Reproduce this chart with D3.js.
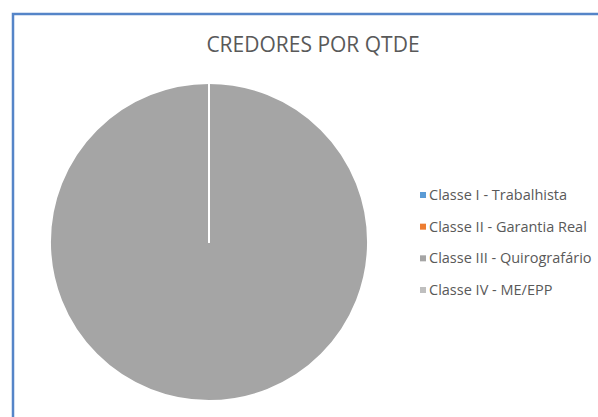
<!DOCTYPE html>
<html><head><meta charset="utf-8">
<script src="https://cdn.jsdelivr.net/npm/d3@7"></script>
<style>html,body{margin:0;padding:0;background:#fff;}svg{display:block;}</style>
</head><body>
<svg id="chart" width="598" height="417"></svg>
<script>
const title = "CREDORES POR QTDE";
const categories = ["Classe I - Trabalhista", "Classe II - Garantia Real", "Classe III - Quirografário", "Classe IV - ME/EPP"];
const values = [0, 0, 1, 0];
const colors = ["#5b9bd5", "#ed7d31", "#a5a5a5", "#bfbfbf"];

const svg = d3.select("#chart");
const W = 598, H = 417;

// chart frame
svg.append("rect").attr("x", 13).attr("y", 14).attr("width", W + 20).attr("height", H + 20)
  .attr("fill", "#fff").attr("stroke", "#5585c8").attr("stroke-width", 2.5);

svg.append("text").attr("x", 313).attr("y", 52).attr("text-anchor", "middle")
  .attr("font-family", "Open Sans, sans-serif").attr("font-size", 21).attr("fill", "#595959")
  .text(title);

const cx = 209, cy = 242, r = 159;
const pie = d3.pie().sort(null).value(d => d.v);
const arcs = pie(categories.map((c, i) => ({c, v: values[i], color: colors[i]})));
const arc = d3.arc().innerRadius(0).outerRadius(r);
const g = svg.append("g").attr("transform", `translate(${cx},${cy})`);
g.selectAll("path").data(arcs).join("path")
  .attr("d", arc).attr("fill", d => d.data.color)
  .attr("stroke", "#fff").attr("stroke-width", 2).attr("stroke-linejoin", "round")
  .filter(d => d.endAngle - d.startAngle === 0).raise();

const color = d3.scaleOrdinal().domain(categories).range(colors);
const ly = d3.scalePoint().domain(categories).range([195, 290]);
const lg = svg.append("g");
const items = lg.selectAll("g").data(categories).join("g")
  .attr("transform", d => `translate(420,${ly(d)})`);
items.append("rect").attr("x", 0).attr("y", -3).attr("width", 6).attr("height", 6).attr("fill", d => color(d));
items.append("text").attr("x", 9).attr("y", 5).attr("font-family", "Open Sans, sans-serif")
  .attr("font-size", 14.5).attr("fill", "#595959").text(d => d);
</script>
</body></html>
